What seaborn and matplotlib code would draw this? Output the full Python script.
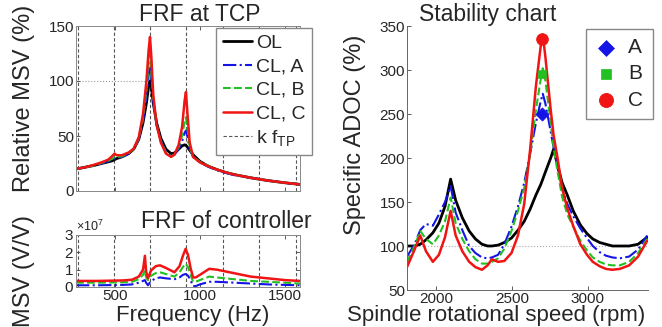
import matplotlib
matplotlib.use("Agg")
import matplotlib.pyplot as plt
from matplotlib.ticker import ScalarFormatter
import seaborn as sns

# ---- FRF at TCP: relative MSV (%) ----
freq_tcp = [270, 320, 370, 420, 460, 485, 497, 510, 540, 580, 610, 640, 665, 685, 698,
            706, 714, 725, 745, 770, 800, 830, 850, 875, 895, 910, 918, 926, 940, 960,
            1000, 1050, 1100, 1150, 1200, 1300, 1400, 1500, 1590]
msv_ol = [20, 21.5, 23, 25, 26.5, 27.5, 28.5, 29.5, 31, 34, 38, 47, 62, 80, 95,
          100, 95, 80, 62, 48, 38, 34, 34.5, 38, 41, 42, 41.5, 40, 37, 33,
          27, 22.5, 19.5, 17, 15, 12, 9.5, 7.5, 6]
msv_a = [20, 21.5, 23, 25, 27, 28.5, 29.5, 30, 31, 34, 38, 47, 64, 86, 105,
         113, 104, 82, 60, 46, 36, 32, 33, 38, 45, 53, 55, 50, 38, 31,
         26, 22, 19, 16.5, 14.5, 12, 9.5, 7.5, 6]
msv_b = [20, 21.5, 23, 25.5, 27.5, 29.5, 31, 31, 31.5, 34.5, 38, 48, 66, 92, 115,
         125, 112, 84, 60, 45, 35, 31.5, 33, 40, 50, 63, 67, 58, 40, 31,
         26.5, 23, 19.5, 17, 15, 12, 9.5, 7.5, 6]
msv_c = [20, 21.5, 23.5, 26, 28.5, 32, 34, 32.5, 32.5, 35, 38.5, 49, 70, 100, 128,
         140, 122, 88, 60, 44, 34, 31, 33, 42, 58, 82, 90, 72, 44, 31,
         26, 22.5, 19.5, 17, 15, 12, 9.5, 7.5, 6]

# tooth passing harmonics (Hz)
k_ftp = [280, 495, 706, 918, 1135, 1350, 1565]

# ---- FRF of controller (V/V), in units of 1e7 ----
freq_ctrl = [270, 400, 550, 600, 640, 665, 676, 683, 694, 712, 740, 765, 800, 850,
             880, 900, 916, 930, 945, 960, 975, 1000, 1055, 1100, 1200, 1300, 1400,
             1500, 1590]
ctrl_a = [0.1, 0.1, 0.12, 0.15, 0.25, 0.35, 0.4, 0.25, 0.1, 0.35, 0.5, 0.55, 0.5, 0.45,
          0.55, 0.7, 0.75, 0.65, 0.4, 0.05, 0.05, 0.15, 0.3, 0.3, 0.25, 0.2, 0.15,
          0.12, 0.1]
ctrl_b = [0.25, 0.25, 0.27, 0.3, 0.45, 0.7, 0.95, 0.55, 0.4, 0.65, 0.8, 0.85, 0.75, 0.6,
          0.85, 1.15, 1.35, 1.15, 0.7, 0.3, 0.3, 0.4, 0.6, 0.55, 0.45, 0.35, 0.3,
          0.25, 0.2]
ctrl_c = [0.35, 0.35, 0.38, 0.42, 0.6, 1.0, 1.8, 0.9, 0.5, 0.95, 1.2, 1.25, 1.1, 0.85,
          1.2, 1.8, 2.2, 1.85, 1.1, 0.55, 0.55, 0.7, 1.05, 1.0, 0.8, 0.6, 0.5,
          0.4, 0.35]

# ---- Stability chart: specific ADOC (%) ----
speed = [1810, 1860, 1897, 1935, 1980, 2020, 2060, 2097, 2130, 2174, 2219, 2260, 2303,
         2340, 2368, 2409, 2450, 2497, 2540, 2581, 2620, 2658, 2690, 2703, 2720, 2755,
         2774, 2800, 2830, 2864, 2903, 2950, 2994, 3032, 3077, 3118, 3161, 3210, 3271,
         3330, 3390]
adoc_ol = [100, 100, 102, 107, 115, 126, 145, 176, 152, 132, 117, 108, 102,
           100, 100, 101, 104, 109, 118, 128, 142, 158, 170, 176, 184, 200,
           210, 192, 172, 158, 140, 124, 114, 108, 104, 102, 100, 100, 100,
           102, 110]
adoc_a = [88, 102, 118, 125, 123, 136, 150, 168, 138, 118, 100, 92, 87,
          86, 87, 90, 102, 122, 145, 172, 205, 240, 265, 273, 262, 230,
          212, 190, 165, 148, 134, 120, 109, 100, 93, 89, 87, 86, 88,
          96, 112]
adoc_b = [82, 100, 117, 108, 102, 112, 128, 155, 126, 108, 94, 85, 80,
          80, 82, 86, 97, 117, 140, 166, 205, 255, 290, 302, 288, 240,
          212, 185, 156, 136, 122, 106, 95, 87, 82, 79, 78, 78, 82,
          92, 108]
adoc_c = [76, 96, 112, 94, 82, 90, 110, 140, 112, 94, 82, 76, 73,
          78, 85, 82, 83, 92, 112, 148, 210, 282, 328, 340, 315, 255,
          226, 200, 166, 143, 123, 102, 90, 82, 77, 74, 73, 74, 78,
          88, 106]

# chosen operating points
pt_speed = [2700, 2700, 2700]
pt_adoc = [250, 295, 335]
pt_names = ["A", "B", "C"]

BLUE = "#1414e6"
GREEN = "#22c022"
RED = "#f01414"
TXT = "#262626"

sns.set_style("ticks")
plt.rcParams["font.family"] = ["Liberation Sans", "DejaVu Sans"]
plt.rcParams["mathtext.fontset"] = "custom"
plt.rcParams["mathtext.rm"] = "Liberation Sans"

fig = plt.figure(figsize=(6.62, 3.27), dpi=100)
W, H = 662.0, 327.0


def box(x0, y0, x1, y1):
    return [x0 / W, 1 - y1 / H, (x1 - x0) / W, (y1 - y0) / H]


ax1 = fig.add_axes(box(76, 26, 300, 191))
ax2 = fig.add_axes(box(76, 235, 300, 287))
ax3 = fig.add_axes(box(407, 26, 648, 290))

styles = [
    ("OL", "black", "-", 2.0),
    ("CL, A", BLUE, "-.", 1.5),
    ("CL, B", GREEN, "--", 1.5),
    ("CL, C", RED, "-", 1.8),
]

# top left: FRF at TCP
for (name, col, ls, lw), vals in zip(styles, [msv_ol, msv_a, msv_b, msv_c]):
    sns.lineplot(x=freq_tcp, y=vals, ax=ax1, color=col, linestyle=ls, lw=lw,
                 label=name, sort=False)
for i, f in enumerate(k_ftp):
    ax1.axvline(f, color="#555555", ls=(0, (3, 2)), lw=0.8,
                label=r"k f$_\mathregular{TP}$" if i == 0 else None, zorder=0)
ax1.plot([270, 706], [100, 100], color="#999999", ls=":", lw=0.8, zorder=0)
ax1.set_xlim(270, 1590)
ax1.set_ylim(0, 150)
ax1.set_yticks([0, 50, 100, 150])
ax1.set_xticks([500, 1000, 1500])
ax1.set_xticklabels([])
leg = ax1.legend(loc="upper right", bbox_to_anchor=(1.055, 0.99), fontsize=14,
                 handlelength=1.5, handletextpad=0.2, labelspacing=0.3,
                 borderpad=0.35, borderaxespad=0, fancybox=False, framealpha=1,
                 edgecolor="#888888")
for t in leg.get_texts():
    t.set_color(TXT)

# bottom left: FRF of controller
for (name, col, ls, lw), vals in zip(styles[1:], [ctrl_a, ctrl_b, ctrl_c]):
    sns.lineplot(x=freq_ctrl, y=[v * 1e7 for v in vals], ax=ax2, color=col,
                 linestyle=ls, lw=lw, sort=False)
for f in k_ftp:
    ax2.axvline(f, color="#555555", ls=(0, (3, 2)), lw=0.8, zorder=0)
ax2.set_xlim(270, 1590)
ax2.set_ylim(0, 3e7)
ax2.set_yticks([0, 1e7, 2e7, 3e7])
ax2.set_xticks([500, 1000, 1500])
fmt = ScalarFormatter(useMathText=True)
fmt.set_powerlimits((0, 0))
ax2.yaxis.set_major_formatter(fmt)
ax2.yaxis.get_offset_text().set_fontsize(9)
ax2.yaxis.get_offset_text().set_color(TXT)

# right: stability chart
for (name, col, ls, lw), vals in zip(styles, [adoc_ol, adoc_a, adoc_b, adoc_c]):
    sns.lineplot(x=speed, y=vals, ax=ax3, color=col, linestyle=ls, lw=lw, sort=False)
ax3.axhline(100, color="#aaaaaa", ls=":", lw=0.8, zorder=0)
markers = ["D", "s", "o"]
sizes = [45, 40, 70]
for sp, ad, nm, col, mk, sz in zip(pt_speed, pt_adoc, pt_names, [BLUE, GREEN, RED],
                                   markers, sizes):
    sns.scatterplot(x=[sp], y=[ad], ax=ax3, color=col, marker=mk, s=sz,
                    edgecolor=col, label=nm, zorder=5)
ax3.set_xlim(1810, 3395)
ax3.set_ylim(50, 350)
ax3.set_xticks([2000, 2500, 3000])
ax3.set_yticks([50, 100, 150, 200, 250, 300, 350])
leg3 = ax3.legend(loc="upper right", bbox_to_anchor=(1.02, 0.99), fontsize=15,
                  handlelength=1.0, handletextpad=0.6, labelspacing=0.35,
                  borderpad=0.45, borderaxespad=0, fancybox=False, framealpha=1,
                  edgecolor="#888888", markerscale=1.2)
for t in leg3.get_texts():
    t.set_color(TXT)
sns.despine(ax=ax3)

for ax in (ax1, ax2, ax3):
    ax.set_xlabel("")
    ax.set_ylabel("")
    ax.tick_params(direction="in", length=3, width=0.6, labelsize=11,
                   colors="#444444", labelcolor=TXT, pad=1.5)
for ax in (ax1, ax2):
    ax.tick_params(top=True, right=True)
    for s in ax.spines.values():
        s.set_color("#888888")
        s.set_linewidth(0.7)
for s in ax3.spines.values():
    s.set_color("#666666")
    s.set_linewidth(0.7)

# titles and axis labels
fig.text(200 / W, 1 - 21 / H, "FRF at TCP", ha="center", va="baseline",
         fontsize=16.5, color=TXT)
fig.text(226 / W, 1 - 228 / H, "FRF of controller", ha="center", va="baseline",
         fontsize=16.5, color=TXT)
fig.text(488 / W, 1 - 21 / H, "Stability chart", ha="center", va="baseline",
         fontsize=16.5, color=TXT)
fig.text(24 / W, 1 - 98 / H, "Relative MSV (%)", rotation=90, ha="center",
         va="center", fontsize=17, color=TXT)
fig.text(24 / W, 1 - 271 / H, "MSV (V/V)", rotation=90, ha="center",
         va="center", fontsize=17, color=TXT)
fig.text(355 / W, 1 - 135 / H, "Specific ADOC (%)", rotation=90, ha="center",
         va="center", fontsize=17, color=TXT)
fig.text(193 / W, 1 - 326 / H, "Frequency (Hz)", ha="center", va="bottom",
         fontsize=16, color=TXT)
fig.text(496 / W, 1 - 326 / H, "Spindle rotational speed (rpm)", ha="center",
         va="bottom", fontsize=16, color=TXT)

fig.savefig("out.png", dpi=100)
